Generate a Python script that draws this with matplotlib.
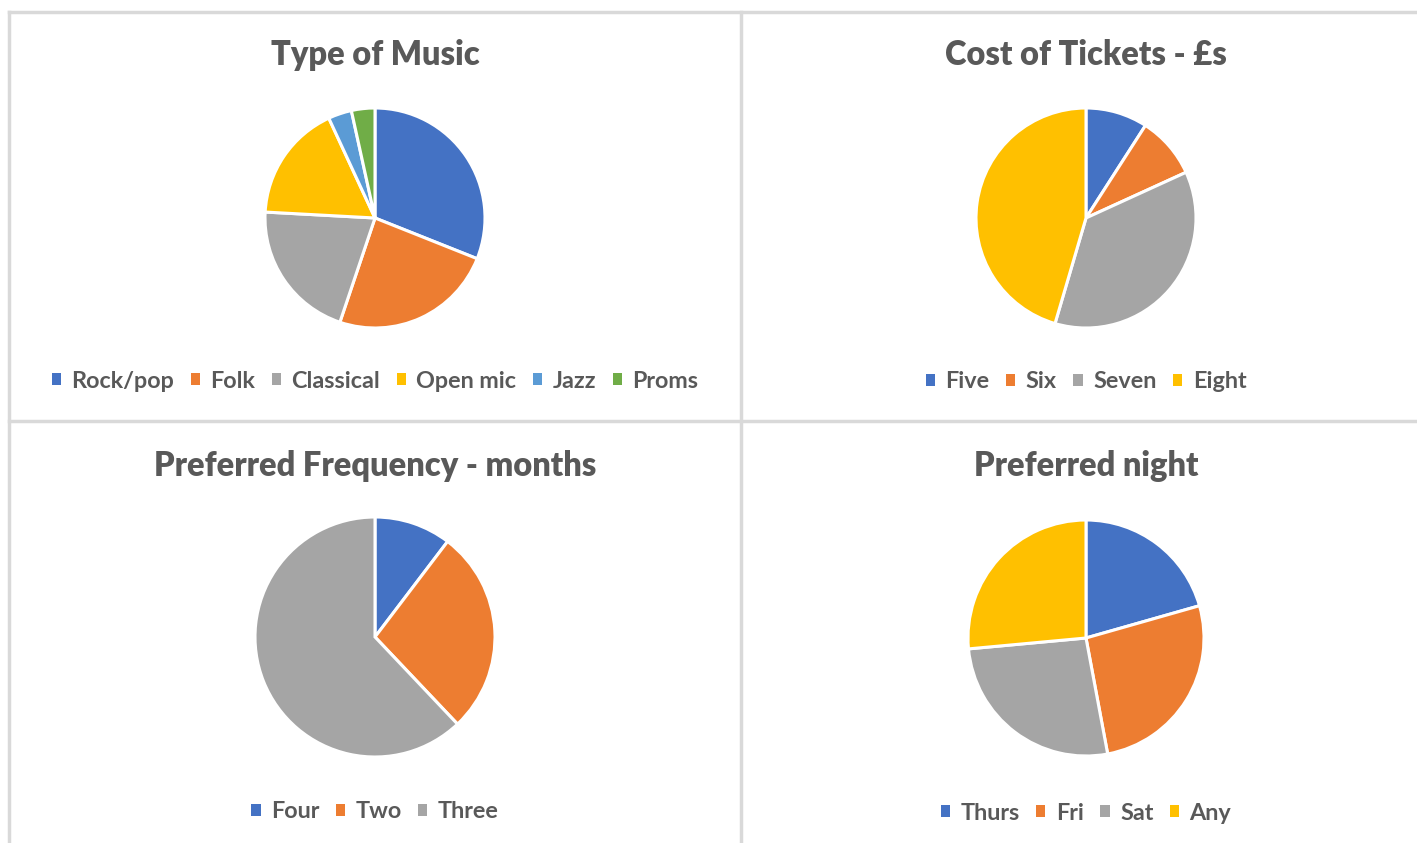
import matplotlib.pyplot as plt
from matplotlib.lines import Line2D
from matplotlib.patches import Patch

# Survey answers (counts)
music_labels = ['Rock/pop', 'Folk', 'Classical', 'Open mic', 'Jazz', 'Proms']
music_counts = [9, 7, 6, 5, 1, 1]

ticket_labels = ['Five', 'Six', 'Seven', 'Eight']
ticket_counts = [1, 1, 4, 5]

freq_labels = ['Four', 'Two', 'Three']
freq_counts = [3, 8, 18]

night_labels = ['Thurs', 'Fri', 'Sat', 'Any']
night_counts = [7, 9, 9, 9]

colors = ['#4472C4', '#ED7D31', '#A5A5A5', '#FFC000', '#5B9BD5', '#70AD47']
text_grey = '#595959'

W, H = 1417, 843
fig = plt.figure(figsize=(W / 100, H / 100), dpi=100)
fig.patch.set_facecolor('white')


def px_axes(cx, cy, r):
    # axes box in figure fraction from pixel centre/radius (y from top)
    return fig.add_axes([(cx - r) / W, 1 - (cy + r) / H, 2 * r / W, 2 * r / H])


def draw_panel(title, labels, counts, cx, cy, r, title_y, legend_y):
    ax = px_axes(cx, cy, r)
    ax.pie(counts, colors=colors[:len(counts)], startangle=90, counterclock=False,
           wedgeprops=dict(edgecolor='white', linewidth=2.2), radius=1)
    ax.set_xlim(-1, 1)
    ax.set_ylim(-1, 1)
    ax.set_aspect('equal')
    ax.axis('off')

    fig.text(cx / W, 1 - title_y / H, title, ha='center', va='center',
             fontsize=23.5, fontweight=800, color=text_grey, family='Lato')

    handles = [Patch(facecolor=colors[i], edgecolor='none') for i in range(len(labels))]
    fig.legend(handles, labels, loc='center', bbox_to_anchor=(cx / W, 1 - legend_y / H),
               ncol=len(labels), frameon=False, handlelength=0.4, handleheight=0.4,
               handletextpad=0.45, columnspacing=0.7,
               prop=dict(family='Lato', size=16.8, weight=700), labelcolor=text_grey)


draw_panel('Type of Music', music_labels, music_counts, 375, 218, 110, 55, 381)
draw_panel('Cost of Tickets - £s', ticket_labels, ticket_counts, 1086, 218, 110, 55, 382)
draw_panel('Preferred Frequency - months', freq_labels, freq_counts, 375, 637, 120, 466, 812)
draw_panel('Preferred night', night_labels, night_counts, 1086, 638, 118, 466, 813)

# panel borders
line_kw = dict(color='#D9D9D9', linewidth=2.5, transform=fig.transFigure)
fig.add_artist(Line2D([9 / W, 9 / W], [0, 1 - 12 / H], **line_kw))
fig.add_artist(Line2D([9 / W, 1], [1 - 12 / H, 1 - 12 / H], **line_kw))
fig.add_artist(Line2D([741 / W, 741 / W], [0, 1 - 12 / H], **line_kw))
fig.add_artist(Line2D([9 / W, 1], [1 - 421 / H, 1 - 421 / H], **line_kw))

plt.savefig('out.png', dpi=100)
plt.close()
